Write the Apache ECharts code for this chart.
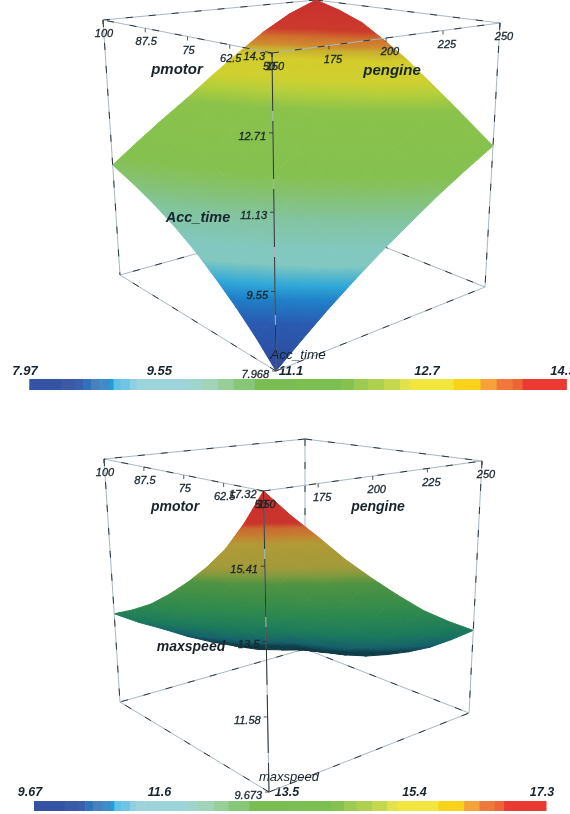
<!DOCTYPE html>
<html><head><meta charset="utf-8">
<script src="https://cdn.jsdelivr.net/npm/echarts@6/dist/echarts.min.js"></script>
<style>html,body{margin:0;padding:0;background:#fff}#c{width:570px;height:814px}</style>
</head><body><div id="c"></div>
<script>
// ---------- data ----------
const pmotorTicks = [50, 62.5, 75, 87.5, 100];
const pengineTicks = [150, 175, 200, 225, 250];
const accTicks = [7.968, 9.55, 11.13, 12.71, 14.3];
const maxTicks = [9.673, 11.58, 13.5, 15.41, 17.32];
const accBarTicks = [7.97, 9.55, 11.1, 12.7, 14.3];
const maxBarTicks = [9.67, 11.6, 13.5, 15.4, 17.3];
// rows: pmotor 50..100 in 9 steps, columns: pengine 150..250 in 9 steps
const accTime = [
 [7.97,8.39,8.82,9.24,9.66,10.08,10.51,10.93,11.35],
 [8.40,8.82,9.25,9.67,10.09,10.52,10.95,11.37,11.75],
 [8.80,9.22,9.66,10.08,10.51,10.94,11.37,11.80,12.17],
 [9.18,9.61,10.04,10.47,10.90,11.33,11.77,12.22,12.60],
 [9.55,9.98,10.42,10.85,11.28,11.72,12.18,12.65,13.05],
 [9.88,10.31,10.75,11.18,11.62,12.06,12.54,13.03,13.45],
 [10.18,10.62,11.05,11.49,11.93,12.39,12.88,13.37,13.84],
 [10.45,10.89,11.33,11.77,12.23,12.70,13.18,13.65,14.10],
 [10.70,11.15,11.60,12.05,12.55,13.05,13.55,13.98,14.30]
];
const maxSpeed = [
 [17.32,16.58,15.90,15.17,14.50,13.85,13.22,12.68,12.18],
 [16.38,15.68,15.03,14.34,13.71,13.09,12.50,12.10,11.70],
 [15.56,14.89,14.29,13.63,13.04,12.46,11.90,11.55,11.25],
 [14.90,14.27,13.70,13.08,12.52,12.02,11.52,11.18,10.88],
 [14.31,13.72,13.19,12.60,12.16,11.65,11.18,10.85,10.55],
 [13.76,13.20,12.71,12.16,11.72,11.38,10.93,10.60,10.25],
 [13.25,12.73,12.27,11.76,11.34,11.05,10.75,10.38,10.02],
 [12.83,12.35,11.93,11.45,11.04,10.75,10.45,10.17,9.83],
 [12.45,12.01,11.62,11.19,10.81,10.46,10.12,9.88,9.67]
];
// colour of the surface against its value
const accValues = [7.97,8.12,8.6,8.93,9.15,9.45,9.66,10.13,10.6,10.85,12.0,12.35,12.6,13.0,13.2,13.3,13.47,13.65,14.3];
const accColors = ['#2f4a9c','#2d4ea0','#2a5ab0','#1f7fc8','#30a8d8','#82c8c0','#82c8c0','#82c4a0','#85c168','#85c150','#8ac24a','#b5cf3a','#cfd030','#d4cc2a','#c8b02e','#d08a2f','#d0702e','#cc3a2c','#c82f2d'];
const maxValues = [9.67,10.9,11.4,12.2,13.2,14.3,14.6,14.9,15.7,15.85,16.0,16.2,16.35,17.32];
const maxColors = ['#0e3846','#0f3e48','#15606a','#1c7a5c','#2f8a4d','#4f9342','#7f9a3e','#a39a3a','#b09a36','#bd8b33','#c87a30','#c96a30','#cb342c','#c9302b'];
// colour bar swatches: fraction of the bar at which each ends
const barEnds = [.06,.085,.1,.115,.132,.15,.157,.17,.188,.2,.215,.3,.32,.35,.38,.42,.50,.58,.605,.63,.66,.69,.71,.79,.84,.87,.90,.918,1];
const barColors = ['#3553a5','#3a5aa8','#3a5fae','#2f74ba','#4a80c0','#3f8cc8','#1fa0d8','#5fc0e8','#70c4e4','#8fcfe2','#9dd4da','#9dd4da','#9fd4cc','#a0d3b8','#98cf98','#86c878','#7abd52','#7abf50','#86c250','#9cca52','#aed04e','#c4d84e','#e2e24a','#f2e63e','#f9d21a','#f5a238','#f0783a','#ee6434','#ea3a32'];

// ---------- layout of the two scenes ----------
// box corners: [pmotor index 0/1][pengine index 0/1], top then bottom, in scene units
const panels = [
 {table:accTime, zTicks:accTicks, vals:accValues, cols:accColors,
  top:[[[272,53],[500,23]],[[103,20],[316,0]]], bot:[[[276,371],[485,287]],[[120,275],[317,220]]]},
 {table:maxSpeed, zTicks:maxTicks, vals:maxValues, cols:maxColors,
  top:[[[263.5,491],[482,461]],[[104,459],[305,439]]], bot:[[[269,792],[469,713]],[[120,702],[305,649]]]}
];
const titles = [
 ['pmotor',177,70,15,'bold'],['pengine',392,71,15,'bold'],['Acc_time',198,218,14.5,'bold'],['Acc_time',298,355,13.5,'normal'],
 ['pmotor',175,507,14,'bold'],['pengine',378,507,14,'bold'],['maxspeed',191,647,14,'bold'],['maxspeed',289,777,13,'normal']
];
function mix(a,b,t){return a+(b-a)*t;}
function project(p,u,v,z){
  const lo=p.zTicks[0], hi=p.zTicks[p.zTicks.length-1], w=(z-lo)/(hi-lo);
  const edge=(c)=>[mix(mix(c[0][0][0],c[0][1][0],v),mix(c[1][0][0],c[1][1][0],v),u),
                   mix(mix(c[0][0][1],c[0][1][1],v),mix(c[1][0][1],c[1][1][1],v),u)];
  const t=edge(p.top), b=edge(p.bot);
  return [mix(b[0],t[0],w),mix(b[1],t[1],w)];
}
function colorAt(p,z){
  const V=p.vals,C=p.cols;
  if(z<=V[0])return C[0];
  for(let k=1;k<V.length;k++){ if(z<=V[k]) return echarts.color.lerp((z-V[k-1])/(V[k]-V[k-1]),[C[k-1],C[k]]); }
  return C[C.length-1];
}
// a triangle whose colour follows its value: the fill is a gradient along the value's slope on screen
function triangle(p,P,Z){
  const dx1=P[1][0]-P[0][0],dy1=P[1][1]-P[0][1],dx2=P[2][0]-P[0][0],dy2=P[2][1]-P[0][1];
  const d1=Z[1]-Z[0],d2=Z[2]-Z[0],det=dx1*dy2-dx2*dy1;
  let fill=colorAt(p,(Z[0]+Z[1]+Z[2])/3);
  if(Math.abs(det)>1e-3){
    const gx=(d1*dy2-d2*dy1)/det, gy=(dx1*d2-dx2*d1)/det, g2=gx*gx+gy*gy;
    const lo=Math.min(Z[0],Z[1],Z[2]), hi=Math.max(Z[0],Z[1],Z[2]);
    if(g2>1e-9 && hi-lo>1e-4){
      const at=(z)=>[P[0][0]+gx*(z-Z[0])/g2,P[0][1]+gy*(z-Z[0])/g2];
      const a=at(lo),b=at(hi);
      const levels=[lo].concat(p.vals.filter(x=>x>lo&&x<hi),[hi]);
      fill={type:'linear',global:true,x:a[0],y:a[1],x2:b[0],y2:b[1],
        colorStops:levels.map(z=>({offset:(z-lo)/(hi-lo),color:colorAt(p,z)}))};
    }
  }
  return {type:'polygon',shape:{points:P},style:{fill,stroke:fill,lineWidth:1}};
}
function surfaceItem(p){
  return function(params,api){
    const i=api.value(0), j=api.value(1), T=p.table, n=T.length-1;
    const pt=(a,b)=>api.coord(project(p,a/n,b/n,T[a][b]));
    const A=pt(i,j),B=pt(i,j+1),C=pt(i+1,j+1),D=pt(i+1,j);
    return {type:'group',children:[
      triangle(p,[A,B,C],[T[i][j],T[i][j+1],T[i+1][j+1]]),
      triangle(p,[A,C,D],[T[i][j],T[i+1][j+1],T[i+1][j]])
    ]};
  };
}
const corners=(p)=>{const lo=p.zTicks[0],hi=p.zTicks[4];return (u,v,top)=>project(p,u,v,top?hi:lo);};
function frameItem(p,edges){
  const C=corners(p);
  return function(params,api){
    const e=edges[api.value(0)], a=api.coord(C(e[0],e[1],e[2])), b=api.coord(C(e[3],e[4],e[5]));
    const shape={x1:a[0],y1:a[1],x2:b[0],y2:b[1]};
    const main=e[6];
    return {type:'group',children:[
      {type:'line',shape,style:{stroke:'#a7b8c2',lineWidth:1}},
      {type:'line',shape,style:{stroke:'#1f2528',lineWidth:.9,lineDash:main?[58,10]:[7,16]}}
    ]};
  };
}
const backEdges=[[1,1,1,1,0,1],[1,1,1,0,1,1],[1,1,0,1,0,0],[1,1,0,0,1,0],[1,1,1,1,1,0]];
const frontEdges=[[0,0,1,1,0,1],[0,0,1,0,1,1],[0,0,1,0,0,0,true],[0,0,0,1,0,0],[0,0,0,0,1,0],[1,0,1,1,0,0],[0,1,1,0,1,0]];
function labelItem(p){
  // pmotor, pengine and value ticks with their text
  const list=[];
  pmotorTicks.forEach(t=>list.push({t:String(t),u:(t-50)/50,v:0,z:p.zTicks[4],dx:t===50?-3:1,dy:14,align:'center',tick:[0,4]}));
  pengineTicks.forEach(t=>list.push({t:String(t),u:0,v:(t-150)/100,z:p.zTicks[4],dx:t===150?3:4,dy:14,align:'center',tick:[0,4]}));
  p.zTicks.forEach(t=>list.push({t:String(t),u:0,v:0,z:t,dx:-7,dy:4,align:'right',tick:[-4,0]}));
  return {list,render(params,api){
    const L=list[api.value(0)], q=api.coord(project(p,L.u,L.v,L.z));
    return {type:'group',children:[
      {type:'line',shape:{x1:q[0],y1:q[1],x2:q[0]+L.tick[0],y2:q[1]+L.tick[1]},style:{stroke:'#2a2e30',lineWidth:.8}},
      {type:'text',x:q[0]+L.dx,y:q[1]+L.dy,style:{text:L.t,font:'italic 11px "Liberation Sans"',fill:'#18242b',stroke:'#18242b',lineWidth:.3,textAlign:L.align,textVerticalAlign:'middle'}}
    ]};
  }};
}
const series=[];
const scene=(name,data,render)=>series.push({name,type:'custom',coordinateSystem:'cartesian2d',xAxisIndex:0,yAxisIndex:0,clip:false,silent:true,data,renderItem:render});
panels.forEach((p,k)=>{
  scene('back'+k,backEdges.map((e,i)=>[i]),frameItem(p,backEdges));
  const cells=[];
  for(let i=0;i<p.table.length-1;i++)for(let j=0;j<p.table[0].length-1;j++)cells.push([i,j]);
  scene('surface'+k,cells,surfaceItem(p));
  scene('front'+k,frontEdges.map((e,i)=>[i]),frameItem(p,frontEdges));
  const L=labelItem(p);
  scene('labels'+k,L.list.map((e,i)=>[i]),L.render);
});
scene('titles',titles.map((e,i)=>[i]),function(params,api){
  const T=titles[api.value(0)], q=api.coord([T[1],T[2]]);
  return {type:'text',x:q[0],y:q[1],style:{text:T[0],font:'italic '+T[4]+' '+T[3]+'px "Liberation Sans"',fill:'#18242b',textAlign:'center',textVerticalAlign:'middle'}};
});
function barSeries(idx,lo,hi){
  series.push({type:'custom',coordinateSystem:'cartesian2d',xAxisIndex:idx,yAxisIndex:idx,clip:false,silent:true,
    data:barEnds.map((e,i)=>[i]),
    renderItem(params,api){
      const i=api.value(0), s=i?barEnds[i-1]:0, e=barEnds[i];
      const a=api.coord([mix(lo,hi,s),1]), b=api.coord([mix(lo,hi,e),0]);
      return {type:'rect',shape:{x:a[0],y:a[1],width:b[0]-a[0]+.5,height:b[1]-a[1]},style:{fill:barColors[i]}};
    }});
}
barSeries(1,8.02,14.34);
barSeries(2,9.73,17.36);
const barAxis=(idx,ticks,size,margin)=>({gridIndex:idx,type:'value',position:'top',min:ticks[0],max:ticks[4],
  axisLine:{show:false},axisTick:{show:false},splitLine:{show:false},
  axisLabel:{customValues:ticks,formatter:v=>String(v),margin,hideOverlap:false,showMinLabel:true,showMaxLabel:true,alignMinLabel:'center',alignMaxLabel:'center',
    fontFamily:'Liberation Sans',fontStyle:'italic',fontWeight:'bold',fontSize:size,color:'#18242b'}});
const chart=echarts.init(document.getElementById('c'),null,{renderer:'canvas'});
chart.setOption({
  animation:false,backgroundColor:'#fff',
  grid:[{left:0,top:0,width:570,height:814,outerBoundsMode:'none'},{left:25,top:379,width:538,height:11,outerBoundsMode:'none'},{left:30,top:801,width:512,height:10,outerBoundsMode:'none'}],
  xAxis:[{gridIndex:0,type:'value',min:0,max:570,show:false},barAxis(1,accBarTicks,13,1),barAxis(2,maxBarTicks,12.5,2)],
  yAxis:[{gridIndex:0,type:'value',min:0,max:814,inverse:true,show:false},{gridIndex:1,type:'value',min:0,max:1,show:false},{gridIndex:2,type:'value',min:0,max:1,show:false}],
  series
});
</script></body></html>
